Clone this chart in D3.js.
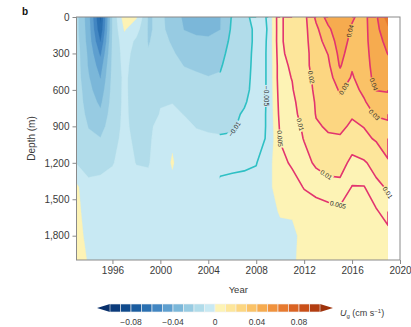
<!DOCTYPE html>
<html>
<head>
<meta charset="utf-8">
<script src="https://cdn.jsdelivr.net/npm/d3@7"></script>
<style>
  html, body { margin: 0; padding: 0; background: #fff; }
  svg { display: block; font-family: "Liberation Sans", Arial, Helvetica, sans-serif; }
</style>
</head>
<body>
<svg id="chart" width="411" height="327"></svg>
<script>
// ---- data -------------------------------------------------------------
// Grid axes of the geostrophic velocity section
const years  = [1993, 1994, 1995, 1996, 1997, 1998, 1999, 2000, 2001, 2002, 2003, 2004, 2005, 2006,
                2007, 2008, 2009, 2010, 2011, 2012, 2013, 2014, 2015, 2016, 2017, 2018, 2019];
const depths = [0, 100, 200, 300, 400, 500, 600, 700, 800, 900, 1000, 1200, 1400, 1600, 1800, 2000];

// Ug in units of 0.001 cm s-1: one profile per year, values listed by depth
const ugMilli = [
  [-17, -17, -16, -15, -15, -15, -14, -14, -13, -13, -12, -10.5, 2, 3, 4, 6],            // 1993
  [-36, -35, -34, -32, -31, -29, -27, -25, -23, -20.4, -18, -13, -8, -5, -3, -1],         // 1994
  [-72, -68, -60.5, -52, -45, -40.4, -36, -32, -28, -24, -19.6, -12, -8, -6, -5, -4],     // 1995
  [-19, -19, -18.5, -18, -17.5, -17, -16.5, -16, -15, -14, -13, -10.5, -7, -6, -5, -5],  // 1996
  [6, 1, -4, -6, -7, -8, -8, -8, -8, -8, -7.5, -7, -6, -5, -5, -5],                      // 1997
  [1, -6, -12, -14, -15, -15, -15, -14.5, -14, -13, -12, -10.3, -7, -6, -5, -5],          // 1998
  [-21, -21, -20.5, -19.5, -19, -18, -16, -15, -14, -12, -11.5, -10.5, -8, -6, -5, -5],  // 1999
  [-18, -18, -17, -16, -15, -13, -12, -10.5, -9.5, -7, -6, -6, -6, -5, -5, -5],          // 2000
  [-24, -23, -21, -19, -17, -14, -12, -10.3, -8, -5.2, -1.5, 1, -2.5, -5, -5, -5],       // 2001
  [-32, -30.4, -26, -23, -20.3, -17, -15, -12, -10.3, -8, -7, -6, -5.2, -5, -5, -5],     // 2002
  [-36, -33, -27, -24, -21, -19, -17, -14, -12, -10.4, -8, -7, -5.2, -5, -5, -5],        // 2003
  [-34, -33, -28, -25, -22, -19.7, -18, -15, -13, -11, -9, -7, -5.2, -4, -4, -4],        // 2004
  [-30.4, -30.2, -26, -23, -21, -19, -17, -15, -13, -11, -9.5, -6, -4.2, -4, -4, -4],    // 2005
  [-19, -18, -17, -16, -15, -14, -13, -12, -11, -10.5, -9.5, -5.6, -4.2, -4, -4, -4],    // 2006
  [-11.5, -12, -13, -13, -12.5, -12, -11.5, -10.5, -9.5, -9, -8.5, -5.4, -4.2, -4, -3.5, -3.5], // 2007
  [-8, -9, -8.5, -8, -8, -8, -8, -8, -7.5, -7.5, -7, -5.2, -3.5, -3, -3, -3],            // 2008
  [-4.3, -4.5, -4.3, -4.3, -4.3, -4.3, -4.3, -4.3, -4.3, -4.3, -4.3, -2, -1, -2, -2.5, -3], // 2009
  [9, 9, 9, 8.5, 8, 8, 7.5, 7, 6.5, 5.8, 5.2, 4, 2, 0.5, -1.5, -2.5],                    // 2010
  [13, 13, 13, 12.5, 11, 10.2, 9.5, 8.5, 8, 7.5, 7, 5.5, 3.5, 0.8, -1.5, -1.5],          // 2011
  [17, 17, 17, 16.5, 17, 15.5, 15, 13.5, 12.5, 11, 10.3, 8, 5.2, 3, 2, 3],               // 2012
  [32, 28, 26, 25, 24, 23, 22, 21, 20.5, 19, 17, 11, 6.5, 3, 3, 3],                      // 2013
  [44, 38, 34, 30.3, 28, 26, 25, 23.5, 22.5, 21, 19, 13, 7.5, 3.5, 3, 3],                // 2014
  [48, 47, 45, 43, 41, 36, 31, 28, 25, 22, 19, 13, 8, 4, 3, 3],                          // 2015
  [41, 39, 37, 35, 31, 29, 27, 24, 21, 18.5, 14, 8, 4.8, 3.5, 3, 3],                     // 2016
  [37, 37, 37, 36.5, 36, 35, 32, 29, 26, 20.3, 18, 9, 4.8, 3.5, 3, 3],                   // 2017
  [48, 47, 46, 45, 44, 43, 40.3, 35, 31, 26, 21, 13, 8, 4.5, 3, 2],                      // 2018
  [66, 58, 53, 50.3, 47, 44, 41, 36, 32, 28, 25, 19, 11, 7, 3.5, 2]                      // 2019
];

// Filled bands: lower edge of each band (0.001 cm s-1) and its colour
const bandEdges  = [-100, -90, -80, -70, -60, -50, -40, -30, -20, -10, 0, 10, 20, 30, 40, 50, 60, 70, 80, 90];
const bandColors = ["#0b3b7b", "#0f4a8c", "#1a5c9f", "#2a70b1", "#4286c2", "#5e9fcf", "#7bb7d9", "#97cbe2", "#b1dcea", "#c8e9f3",
                    "#fdf3b5", "#fde69b", "#fcd681", "#fac267", "#f6ab4f", "#f0923d", "#e77a2f", "#da6323", "#c94f18", "#b23d10"];

// Contour lines drawn over the recent period
const lineLevels = [-20, -10, -5, 5, 10, 20, 30, 40, 50];
const lineStart  = 2004.95;

// Where along each contour its label sits (level, year, depth)
const labelHints = [
  { level: -5,  year: 2008.8, depth: 650 },
  { level: -10, year: 2006.3, depth: 930 },
  { level: 5,   year: 2010.1, depth: 1000 },
  { level: 5,   year: 2014.8, depth: 1550 },
  { level: 10,  year: 2011.9, depth: 880 },
  { level: 10,  year: 2013.9, depth: 1290 },
  { level: 10,  year: 2018.9, depth: 1450 },
  { level: 20,  year: 2012.3, depth: 500 },
  { level: 30,  year: 2015.5, depth: 600 },
  { level: 30,  year: 2017.9, depth: 800 },
  { level: 40,  year: 2016.0, depth: 120 },
  { level: 40,  year: 2017.6, depth: 560 }
];

const xTicks  = [1996, 2000, 2004, 2008, 2012, 2016, 2020];
const yTicks  = [0, 300, 600, 900, 1200, 1500, 1800];
const cbTicks = [-0.08, -0.04, 0, 0.04, 0.08];

// ---- layout ------------------------------------------------------------
const svg = d3.select("#chart");
const plot = { left: 76.5, right: 400, top: 17, bottom: 260 };
const x = d3.scaleLinear().domain([1993, 2020]).range([plot.left, plot.right]);
const y = d3.scaleLinear().domain([0, 2000]).range([plot.top, plot.bottom]);

const nx = years.length, ny = depths.length;
const grid = new Array(nx * ny);
for (let i = 0; i < nx; i++) for (let j = 0; j < ny; j++) grid[j * nx + i] = ugMilli[i][j];

// grid-index coordinate (node k sits at k + 0.5) -> year / depth
function along(arr, c) {
  const t = Math.max(0, Math.min(arr.length - 1, c - 0.5));
  const k0 = Math.floor(t), k1 = Math.min(arr.length - 1, k0 + 1);
  return arr[k0] + (arr[k1] - arr[k0]) * (t - k0);
}
const px = c => x(along(years, c));
const py = c => y(along(depths, c));

// fills stop on a whole pixel at the last profile so the edge stays clean
const dataRight = Math.floor(x(years[nx - 1]));
const defs = svg.append("defs");
defs.append("clipPath").attr("id", "plotClip")
  .append("rect").attr("x", plot.left).attr("y", plot.top)
  .attr("width", dataRight - plot.left).attr("height", plot.bottom - plot.top);
defs.append("clipPath").attr("id", "lineClip")
  .append("rect").attr("x", x(lineStart)).attr("y", plot.top)
  .attr("width", dataRight - x(lineStart)).attr("height", plot.bottom - plot.top);

// ---- filled contours ---------------------------------------------------
const proj = d3.geoTransform({ point(a, b) { this.stream.point(px(a), py(b)); } });
const geoPath = d3.geoPath(proj);
const bands = d3.contours().size([nx, ny]).thresholds(bandEdges)(grid);

svg.append("g").attr("clip-path", "url(#plotClip)")
  .selectAll("path").data(bands).join("path")
  .attr("d", geoPath)
  .attr("fill", d => bandColors[bandEdges.indexOf(d.value)])
  .attr("stroke", d => bandColors[bandEdges.indexOf(d.value)])
  .attr("stroke-width", 0.3);

// ---- contour lines -----------------------------------------------------
const onBorder = p => p[0] <= 0 || p[0] >= nx || p[1] <= 0 || p[1] >= ny;
function openLines(ring) {
  const pts = ring.slice();
  const f = pts[0], l = pts[pts.length - 1];
  if (pts.length > 1 && f[0] === l[0] && f[1] === l[1]) pts.pop();
  const n = pts.length;
  const start = pts.findIndex((p, k) => onBorder(p) && onBorder(pts[(k + 1) % n]));
  if (start < 0) return [pts.concat([pts[0]])];
  const out = []; let cur = [];
  for (let s = 1; s < n; s++) {
    const a = pts[(start + s) % n], b = pts[(start + s + 1) % n];
    if (onBorder(a) && onBorder(b)) { if (cur.length > 1) out.push(cur); cur = []; }
    else { if (!cur.length) cur.push(a); cur.push(b); }
  }
  if (cur.length > 1) out.push(cur);
  return out;
}

const lineSets = d3.contours().size([nx, ny]).thresholds(lineLevels)(grid);
const linesByLevel = new Map();
lineSets.forEach(c => {
  const polys = [];
  c.coordinates.forEach(poly => poly.forEach(ring =>
    openLines(ring).forEach(pl => polys.push(pl.map(p => [px(p[0]), py(p[1])])))));
  linesByLevel.set(c.value, polys);
});

const mask = defs.append("mask").attr("id", "labelMask").attr("maskUnits", "userSpaceOnUse")
  .attr("x", 0).attr("y", 0).attr("width", 411).attr("height", 327);
mask.append("rect").attr("width", 411).attr("height", 327).attr("fill", "#fff");

const lineG = svg.append("g").attr("clip-path", "url(#lineClip)")
  .append("g").attr("mask", "url(#labelMask)");
const lineGen = d3.line();
lineLevels.forEach(lv => {
  (linesByLevel.get(lv) || []).forEach(pl => {
    lineG.append("path").attr("d", lineGen(pl))
      .attr("fill", "none")
      .attr("stroke", lv < 0 ? "#2fc0c4" : "#e2346f")
      .attr("stroke-width", 1.6)
      .attr("stroke-linejoin", "round");
  });
});

// contour labels, rotated along their line
const fmtLevel = v => String(v / 1000).replace("-", "\u2212");
const labelG = svg.append("g");
labelHints.forEach(h => {
  const hx = x(h.year), hy = y(h.depth);
  let best = null;
  (linesByLevel.get(h.level) || []).forEach(pl => {
    for (let k = 0; k < pl.length - 1; k++) {
      const a = pl[k], b = pl[k + 1];
      const dx = b[0] - a[0], dy = b[1] - a[1], L2 = dx * dx + dy * dy;
      if (L2 < 1e-6) continue;
      let t = ((hx - a[0]) * dx + (hy - a[1]) * dy) / L2;
      t = Math.max(0, Math.min(1, t));
      const qx = a[0] + t * dx, qy = a[1] + t * dy;
      const d = (qx - hx) ** 2 + (qy - hy) ** 2;
      if (!best || d < best.d) best = { d, qx, qy, ang: Math.atan2(dy, dx) * 180 / Math.PI };
    }
  });
  if (!best) return;
  let ang = best.ang;
  if (ang > 90) ang -= 180;
  if (ang <= -90) ang += 180;
  const tf = `translate(${best.qx},${best.qy}) rotate(${ang})`;
  const t = labelG.append("text").attr("transform", tf)
    .attr("text-anchor", "middle").attr("dy", "0.35em")
    .attr("font-size", 6.5).attr("fill", "#2a2a2a")
    .text(fmtLevel(h.level));
  const w = t.node().getComputedTextLength() + 2;
  mask.append("rect").attr("transform", tf)
    .attr("x", -w / 2).attr("y", -3.5).attr("width", w).attr("height", 7).attr("fill", "#000");
});

// ---- axes --------------------------------------------------------------
const axisColor = "#8a8a8a", textColor = "#3a3a3a";
svg.append("rect").attr("x", plot.left).attr("y", plot.top)
  .attr("width", plot.right - plot.left).attr("height", plot.bottom - plot.top)
  .attr("fill", "none").attr("stroke", axisColor).attr("stroke-width", 1);

const xAxis = svg.append("g").attr("transform", `translate(0,${plot.bottom})`)
  .call(d3.axisBottom(x).tickValues(xTicks).tickFormat(d3.format("d")).tickSize(4).tickPadding(3));
const yAxis = svg.append("g").attr("transform", `translate(${plot.left},0)`)
  .call(d3.axisLeft(y).tickValues(yTicks).tickFormat(d3.format(",")).tickSize(4).tickPadding(3));
[xAxis, yAxis].forEach(g => {
  g.select(".domain").remove();
  g.selectAll(".tick line").attr("stroke", axisColor);
  g.selectAll(".tick text").attr("fill", textColor).attr("font-size", 10)
    .attr("font-family", "Liberation Sans, Arial, sans-serif");
});

svg.append("text").attr("x", (plot.left + plot.right) / 2).attr("y", 293)
  .attr("text-anchor", "middle").attr("font-size", 9.5).attr("fill", textColor).text("Year");
svg.append("text").attr("transform", `translate(35,${(plot.top + plot.bottom) / 2}) rotate(-90)`)
  .attr("text-anchor", "middle").attr("font-size", 10).attr("fill", textColor).text("Depth (m)");
svg.append("text").attr("x", 22).attr("y", 15).attr("font-size", 10).attr("font-weight", "bold")
  .attr("fill", "#111").text("b");

// ---- colour bar ----------------------------------------------------------
const cb = d3.scaleLinear().domain([-0.1, 0.1]).range([110, 320]);
const cbTop = 304, cbH = 8, cbTip = 13;
const cbG = svg.append("g");
cbG.append("path")
  .attr("d", `M${cb(-0.1)},${cbTop}L${cb(-0.1) - cbTip},${cbTop + cbH / 2}L${cb(-0.1)},${cbTop + cbH}Z`)
  .attr("fill", "#08306b");
cbG.append("path")
  .attr("d", `M${cb(0.1)},${cbTop}L${cb(0.1) + cbTip},${cbTop + cbH / 2}L${cb(0.1)},${cbTop + cbH}Z`)
  .attr("fill", "#9e330c");
cbG.selectAll("rect").data(bandEdges).join("rect")
  .attr("x", d => cb(d / 1000)).attr("y", cbTop)
  .attr("width", d => cb((d + 10) / 1000) - cb(d / 1000)).attr("height", cbH)
  .attr("fill", (d, i) => bandColors[i])
  .attr("stroke", "#f2f2f2").attr("stroke-width", 0.6);
const cbFmt = v => v === 0 ? "0" : d3.format(".2f")(v);
cbG.selectAll("text.cbt").data(cbTicks).join("text").attr("class", "cbt")
  .attr("x", d => cb(d)).attr("y", 324.5).attr("text-anchor", "middle")
  .attr("font-size", 8.5).attr("fill", textColor).text(cbFmt);

const unit = cbG.append("text").attr("x", 340).attr("y", 316).attr("font-size", 9).attr("fill", textColor);
unit.append("tspan").attr("font-style", "italic").text("U");
unit.append("tspan").attr("font-size", 6).attr("dy", 2).text("g");
unit.append("tspan").attr("dy", -2).text(" (cm s");
unit.append("tspan").attr("font-size", 6).attr("dy", -3.5).text("\u22121");
unit.append("tspan").attr("dy", 3.5).text(")");
</script>
</body>
</html>
